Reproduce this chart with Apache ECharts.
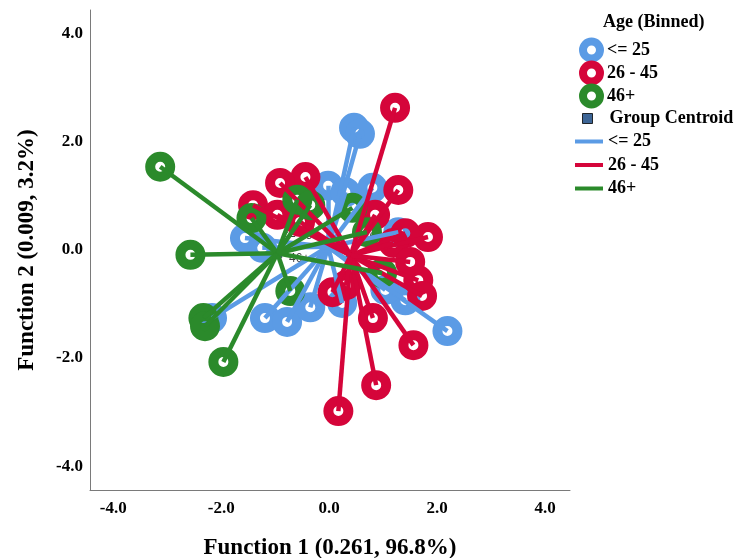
<!DOCTYPE html>
<html>
<head>
<meta charset="utf-8">
<script src="https://cdn.jsdelivr.net/npm/echarts@6/dist/echarts.min.js"></script>
<style>
  html, body { margin: 0; padding: 0; background: #ffffff; }
  #chart { width: 736px; height: 558px; }
</style>
</head>
<body>
<div id="chart"></div>
<script>
// Discriminant scores per case, grouped by age band: [Function 1, Function 2]
const groupNames = ['<= 25', '26 - 45', '46+'];

const youngScores = [
  [0.46, 2.26], [0.57, 2.15], [2.19, -1.50], [-2.17, -1.26], [-1.19, -1.26],
  [-0.78, -1.33], [-0.35, -1.06], [0.24, -0.98], [-0.02, 1.19], [0.30, 1.07],
  [0.80, 1.15], [-1.56, 0.22], [-1.24, 0.04], [1.28, 0.33], [1.41, -0.93],
  [1.04, -0.74]
];

const middleScores = [
  [1.22, 2.63], [1.28, 1.11], [1.83, 0.24], [1.41, 0.31], [1.65, -0.56],
  [1.72, -0.85], [1.56, -1.76], [0.87, -2.50], [0.17, -2.98], [0.81, -1.26],
  [0.06, -0.78], [0.31, -0.65], [0.85, 0.65], [-0.44, 1.35], [-0.91, 1.24],
  [-1.41, 0.83], [-0.96, 0.65], [1.19, 0.13], [1.50, -0.22], [-0.54, 0.52]
];

const olderScores = [
  [-3.13, 1.54], [-2.57, -0.09], [-2.33, -1.26], [-2.30, -1.41], [-1.96, -2.07],
  [-1.44, 0.59], [-0.59, 0.93], [0.43, 0.78], [-0.72, -0.76], [0.98, -0.43],
  [0.70, 0.33], [-0.35, 0.83]
];

// Group centroids in the same order as groupNames
const centroidScores = [[-0.02, 0.06], [0.40, -0.10], [-0.96, -0.06]];

const xTickValues = [-4, -2, 0, 2, 4];
const yTickValues = [-4, -2, 0, 2, 4];

const groupColors = ['#5b9be5', '#d5053a', '#2b8a2b'];
const centroidColor = '#0c3e7c';
const serif = '"Liberation Serif", "Times New Roman", serif';

const scoreSets = [youngScores, middleScores, olderScores];

// Label placement for each centroid marker
const centroidLabelPlacement = [
  { position: 'left', offset: [-6, -11] },
  { position: 'right', offset: [2, -18] },
  { position: 'right', offset: [2, 5] }
];

const series = [];

// Centroid markers sit underneath everything else
centroidScores.forEach((c, i) => {
  series.push({
    name: 'Group Centroid',
    type: 'scatter',
    symbol: 'rect',
    symbolSize: 9,
    z: 1,
    silent: true,
    itemStyle: { color: centroidColor, borderColor: '#000', borderWidth: 0.5 },
    label: {
      show: true,
      formatter: groupNames[i],
      position: centroidLabelPlacement[i].position,
      offset: centroidLabelPlacement[i].offset,
      fontFamily: 'Arial, "Liberation Sans", sans-serif',
      fontSize: 12,
      color: '#111'
    },
    data: [c]
  });
});

// Case markers drawn as thick rings
scoreSets.forEach((pts, i) => {
  series.push({
    name: groupNames[i],
    type: 'scatter',
    symbol: 'circle',
    symbolSize: 20,
    z: 2 + i,
    silent: true,
    itemStyle: { color: 'rgba(0,0,0,0)', borderColor: groupColors[i], borderWidth: 10, opacity: 1 },
    data: pts
  });
});

// Connectors from each case to its group centroid
scoreSets.forEach((pts, i) => {
  series.push({
    name: 'link:' + groupNames[i],
    type: 'lines',
    coordinateSystem: 'cartesian2d',
    z: 10 + i,
    silent: true,
    lineStyle: { color: groupColors[i], width: 4.5, opacity: 1, curveness: 0 },
    data: pts.map(p => ({ coords: [p, centroidScores[i]] }))
  });
});

const legendText = { fontFamily: serif, fontWeight: 'bold', fontSize: 18, color: '#000', lineHeight: 17 };

const option = {
  animation: false,
  backgroundColor: '#ffffff',
  title: {
    text: 'Age (Binned)',
    left: 603,
    top: 13,
    padding: 0,
    textStyle: { fontFamily: serif, fontWeight: 'bold', fontSize: 18, color: '#000' }
  },
  legend: [
    {
      orient: 'vertical',
      left: 579,
      top: 37.5,
      padding: 0,
      itemWidth: 17,
      itemHeight: 17,
      itemGap: -2,
      selectedMode: false,
      textStyle: Object.assign({ padding: [0, 0, 0, 2] }, legendText),
      data: groupNames.map((n, i) => ({
        name: n,
        icon: 'circle',
        itemStyle: { color: 'rgba(0,0,0,0)', borderColor: groupColors[i], borderWidth: 8 }
      }))
    },
    {
      orient: 'vertical',
      left: 582,
      top: 109.5,
      padding: 0,
      itemWidth: 10,
      itemHeight: 10,
      selectedMode: false,
      textStyle: Object.assign({ padding: [0, 0, 0, 12] }, legendText),
      data: [{
        name: 'Group Centroid',
        icon: 'rect',
        itemStyle: { color: centroidColor, borderColor: '#000', borderWidth: 1 }
      }]
    },
    {
      orient: 'vertical',
      left: 575,
      top: 132.5,
      padding: 0,
      itemWidth: 28,
      itemHeight: 4,
      itemGap: 5.5,
      selectedMode: false,
      textStyle: legendText,
      formatter: name => name.replace('link:', ''),
      data: groupNames.map((n, i) => ({
        name: 'link:' + n,
        icon: 'rect',
        itemStyle: { color: groupColors[i], borderWidth: 0 }
      }))
    }
  ],
  grid: { left: 90, right: 166, top: 10, bottom: 68, containLabel: false, outerBoundsMode: 'none' },
  xAxis: {
    type: 'value',
    min: -4.43,
    max: 4.46,
    name: 'Function 1 (0.261, 96.8%)',
    nameLocation: 'middle',
    nameGap: 47,
    nameTextStyle: { fontFamily: serif, fontWeight: 'bold', fontSize: 23, color: '#000' },
    axisLine: { show: true, onZero: false, lineStyle: { color: '#7a7a7a', width: 1 } },
    axisTick: { show: false },
    splitLine: { show: false },
    axisLabel: {
      customValues: xTickValues,
      formatter: v => v.toFixed(1),
      margin: 10,
      fontFamily: serif,
      fontWeight: 'bold',
      fontSize: 17,
      color: '#000'
    }
  },
  yAxis: {
    type: 'value',
    min: -4.44,
    max: 4.44,
    name: 'Function 2 (0.009, 3.2%)',
    nameLocation: 'middle',
    nameGap: 51,
    nameRotate: 90,
    nameTextStyle: { fontFamily: serif, fontWeight: 'bold', fontSize: 23, color: '#000' },
    axisLine: { show: true, onZero: false, lineStyle: { color: '#7a7a7a', width: 1 } },
    axisTick: { show: false },
    splitLine: { show: false },
    axisLabel: {
      customValues: yTickValues,
      formatter: v => v.toFixed(1),
      margin: 7,
      fontFamily: serif,
      fontWeight: 'bold',
      fontSize: 17,
      color: '#000'
    }
  },
  series: series
};

const chart = echarts.init(document.getElementById('chart'), null, { renderer: 'canvas' });
chart.setOption(option);
</script>
</body>
</html>
